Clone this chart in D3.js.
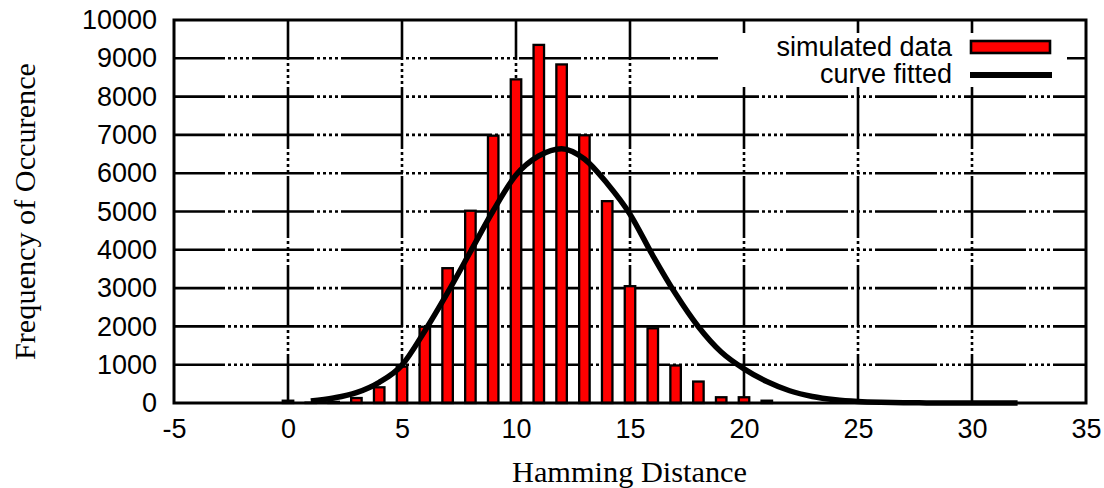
<!DOCTYPE html>
<meta charset="utf-8">
<script src="https://d3js.org/d3.v7.min.js"></script>
<style>
  body { margin: 0; background: #fff; }
</style>
<svg id="chart" width="1104" height="488"></svg>
<script>

// histogram: hamming distance -> number of occurrences
var distances = [0, 1, 2, 3, 4, 5, 6, 7, 8, 9, 10, 11, 12, 13, 14, 15, 16, 17, 18, 19, 20, 21]
var counts = [60, 10, 30, 130, 410, 950, 1990, 3520, 5020, 6980, 8450, 9350, 8840, 6990, 5270, 3050, 1950, 980, 560, 150, 150, 60]

// fitted curve, points
var fitX = [1, 2, 3, 4, 5, 6, 7, 8, 9, 10, 11, 12, 13, 14, 15, 16, 17, 18, 19, 20, 21, 22, 23, 24, 25, 26, 27, 28, 29, 30, 31, 32]
var fitY = [50, 130, 270, 540, 990, 1880, 2880, 3950, 5020, 5950, 6450, 6640, 6370, 5730, 4930, 3850, 2850, 1990, 1330, 890, 560, 320, 170, 85, 40, 18, 7, 3, 0, 0, 0, 0]

var xTicks = [-5, 0, 5, 10, 15, 20, 25, 30, 35]
var yTicks = [0, 1000, 2000, 3000, 4000, 5000, 6000, 7000, 8000, 9000, 10000]
var legendLabels = ["simulated data", "curve fitted"]

var sans = '"Liberation Sans", Arial, sans-serif'
var serif = '"Liberation Serif", "Times New Roman", serif'

const svg = d3.select("#chart")

const x = d3.scaleLinear().domain([-5, 35]).range([174, 1086])
const y = d3.scaleLinear().domain([0, 10000]).range([403, 20])

svg.append("rect").attr("width", 1104).attr("height", 488).attr("fill", "#fff")

// grid (gnuplot style dotted grid, rendered coarse)
var gridDash = "62,3,3,3,3,3,3,3,3,3"
svg.append("g")
  .selectAll("line")
  .data(yTicks.slice(1, -1))
  .join("line")
    .attr("x1", x(-5)).attr("x2", x(35))
    .attr("y1", d => y(d)).attr("y2", d => y(d))
    .attr("stroke", "#000")
    .attr("stroke-width", 2.6)
    .attr("stroke-dasharray", gridDash)
    .attr("stroke-dashoffset", 11)

svg.append("g")
  .selectAll("line")
  .data(xTicks.slice(1, -1))
  .join("line")
    .attr("x1", d => x(d)).attr("x2", d => x(d))
    .attr("y1", y(10000)).attr("y2", y(0))
    .attr("stroke", "#000")
    .attr("stroke-width", 2.6)
    .attr("stroke-dasharray", gridDash)
    .attr("stroke-dashoffset", 22)

// bars
var bw = x(0.46) - x(0)
svg.append("g")
  .selectAll("rect")
  .data(distances)
  .join("rect")
    .attr("x", (d, i) => x(d) - bw / 2)
    .attr("width", bw)
    .attr("y", (d, i) => y(counts[i]))
    .attr("height", (d, i) => y(0) - y(counts[i]))
    .attr("fill", "#ff0000")
    .attr("stroke", "#000")
    .attr("stroke-width", 2.3)

// fitted curve
var line = d3.line()
  .x(d => x(d[0]))
  .y(d => y(d[1]))
  .curve(d3.curveMonotoneX)

svg.append("path")
  .datum(fitX.map((d, i) => [d, fitY[i]]))
  .attr("d", line)
  .attr("fill", "none")
  .attr("stroke", "#000")
  .attr("stroke-width", 5.5)
  .attr("stroke-linejoin", "round")

// legend (opaque box)
svg.append("rect")
  .attr("x", 718).attr("y", 33)
  .attr("width", 349).attr("height", 54)
  .attr("fill", "#fff")

svg.append("g")
  .selectAll("text")
  .data(legendLabels)
  .join("text")
    .attr("x", 952)
    .attr("y", (d, i) => 56 + i * 27)
    .attr("text-anchor", "end")
    .attr("font-family", sans)
    .attr("font-size", 27)
    .text(d => d)

svg.append("rect")
  .attr("x", 971).attr("y", 41)
  .attr("width", 79).attr("height", 12)
  .attr("fill", "#ff0000")
  .attr("stroke", "#000")
  .attr("stroke-width", 2.6)

svg.append("line")
  .attr("x1", 970).attr("x2", 1052)
  .attr("y1", 75).attr("y2", 75)
  .attr("stroke", "#000")
  .attr("stroke-width", 6)

// border
svg.append("rect")
  .attr("x", x(-5)).attr("y", y(10000))
  .attr("width", x(35) - x(-5))
  .attr("height", y(0) - y(10000))
  .attr("fill", "none")
  .attr("stroke", "#000")
  .attr("stroke-width", 3)

// axes (labels only, lines come from the grid/border)
var xAxis = svg.append("g")
  .attr("transform", "translate(0," + y(0) + ")")
  .call(d3.axisBottom(x).tickValues(xTicks).tickSize(0).tickPadding(16).tickFormat(d => String(d)))
xAxis.select(".domain").remove()
xAxis.attr("font-family", sans).attr("font-size", 27)
xAxis.selectAll("text").attr("fill", "#000")

var yAxis = svg.append("g")
  .attr("transform", "translate(" + x(-5) + ",0)")
  .call(d3.axisLeft(y).tickValues(yTicks).tickSize(0).tickPadding(17).tickFormat(d3.format("d")))
yAxis.select(".domain").remove()
yAxis.attr("font-family", sans).attr("font-size", 27)
yAxis.selectAll("text").attr("fill", "#000")

// axis titles
svg.append("text")
  .attr("x", 629.5).attr("y", 482)
  .attr("text-anchor", "middle")
  .attr("font-family", serif)
  .attr("font-size", 29)
  .attr("textLength", 235)
  .attr("lengthAdjust", "spacingAndGlyphs")
  .text("Hamming Distance")

svg.append("text")
  .attr("transform", "translate(35,211.5) rotate(-90)")
  .attr("text-anchor", "middle")
  .attr("font-family", serif)
  .attr("font-size", 30)
  .attr("textLength", 297)
  .attr("lengthAdjust", "spacingAndGlyphs")
  .text("Frequency of Occurence")

</script>
